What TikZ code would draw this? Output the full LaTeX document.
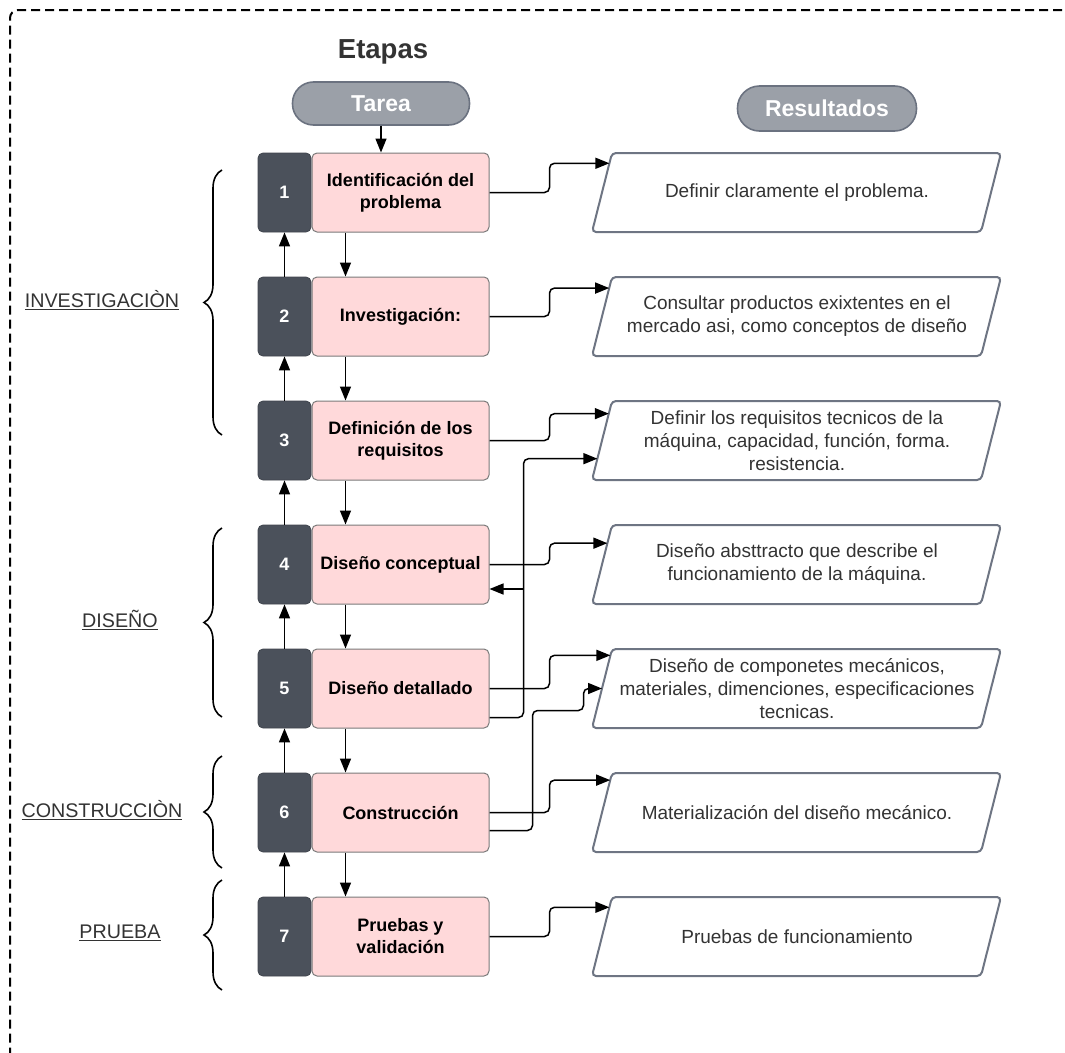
\documentclass[tikz,border=0pt]{standalone}
\usepackage{fontspec}
\setmainfont{Liberation Sans}
\usetikzlibrary{arrows.meta,decorations.pathreplacing,calc}
\definecolor{darkbox}{HTML}{4B515B}
\definecolor{pinkfill}{HTML}{FFD9DA}
\definecolor{pinkline}{HTML}{7A7A7A}
\definecolor{pillfill}{HTML}{9BA0A8}
\definecolor{pillline}{HTML}{6B7280}
\definecolor{resline}{HTML}{6E7583}
\definecolor{txt}{HTML}{333333}
\tikzset{
  numbox/.style={rectangle, rounded corners=5pt, fill=darkbox, draw=darkbox!85!black, line width=0.8pt,
    minimum width=53pt, minimum height=79pt, inner sep=0pt, text=white,
    font=\fontsize{18}{20}\selectfont\bfseries},
  taskbox/.style={rectangle, rounded corners=5pt, fill=pinkfill, draw=pinkline, line width=1pt,
    minimum width=177pt, minimum height=79pt, align=center, inner sep=0pt,
    font=\fontsize{18}{22}\selectfont\bfseries},
  pill/.style={rectangle, fill=pillfill, draw=pillline, line width=1.6pt, inner sep=0pt,
    text=white, font=\fontsize{23}{26}\selectfont\bfseries},
  restext/.style={align=center, font=\fontsize{19}{23}\selectfont, text=txt, inner sep=0pt},
  resbox/.style={draw=resline, line width=2pt, rounded corners=4pt, fill=white},
  conn/.style={draw=black, line width=1.5pt, rounded corners=5pt},
  arr/.style={conn, -{Triangle[length=14pt,width=11pt]}},
  grouplab/.style={font=\fontsize{19.7}{22}\selectfont, text=txt, inner sep=0pt},
  bracestyle/.style={decorate, decoration={brace, amplitude=18pt}, line width=1.6pt},
}
\begin{document}
\begin{tikzpicture}[x=1pt,y=-1pt]
\useasboundingbox (0,0) rectangle (1065,1052);
% dashed frame
\draw[line width=2pt, dash pattern=on 9pt off 5pt, rounded corners=8pt] (1090,10) -- (10,10) -- (10,1090);

% titles
\node[font=\fontsize{27.5}{30}\selectfont\bfseries, text=txt] (etapas) at (383,52) {Etapas};
\node[pill, rounded corners=21pt, minimum width=177pt, minimum height=43pt] (tarea) at (381,103.5) {Tarea};
\node[pill, rounded corners=22pt, minimum width=179pt, minimum height=45pt] (resultados) at (827,108.5) {Resultados};

% number boxes and task boxes
\foreach \i/\t in {1/{Identificación del\\problema}, 2/{Investigación:}, 3/{Definición de los\\requisitos},
   4/{Diseño conceptual}, 5/{Diseño detallado}, 6/{Construcción}, 7/{Pruebas y\\validación}} {
  \node[taskbox] (p\i) at (400.5,{192.5+124*(\i-1)}) {\t};
  \node[numbox] (n\i) at (284.5,{192.5+124*(\i-1)}) {\i};
}

% result parallelograms
\foreach \i/\t in {1/{Definir claramente el problema.},
   2/{Consultar productos exixtentes en el\\mercado asi, como conceptos de diseño},
   3/{Definir los requisitos tecnicos de la\\máquina, capacidad, función, forma.\\resistencia.},
   4/{Diseño absttracto que describe el\\funcionamiento de la máquina.},
   5/{Diseño de componetes mecánicos,\\materiales, dimenciones, especificaciones\\tecnicas.},
   6/{Materialización del diseño mecánico.},
   7/{Pruebas de funcionamiento}} {
  \coordinate (tl\i) at (612,{153+124*(\i-1)});
  \coordinate (tr\i) at (1001,{153+124*(\i-1)});
  \coordinate (br\i) at (981,{232+124*(\i-1)});
  \coordinate (bl\i) at (592,{232+124*(\i-1)});
  \draw[resbox] (tl\i) -- (tr\i) -- (br\i) -- (bl\i) -- cycle;
  \node[restext] (r\i) at (797,{192.5+124*(\i-1)}) {\t};
}

% arrow targets on left edges of the result boxes
\coordinate (a1) at ($(tl1)!0.13!(bl1)$);
\coordinate (a2) at ($(tl2)!0.14!(bl2)$);
\coordinate (a3) at ($(tl3)!0.16!(bl3)$);
\coordinate (a3b) at ($(tl3)!0.73!(bl3)$);
\coordinate (a4) at ($(tl4)!0.23!(bl4)$);
\coordinate (a5) at ($(tl5)!0.08!(bl5)$);
\coordinate (a5b) at ($(tl5)!0.50!(bl5)$);
\coordinate (a6) at ($(tl6)!0.09!(bl6)$);
\coordinate (a7) at ($(tl7)!0.13!(bl7)$);

% braces and group labels
\draw[bracestyle] (222,435) -- (222,170);
\draw[bracestyle] (222,717) -- (222,528);
\draw[bracestyle] (222,868) -- (222,756);
\draw[bracestyle] (222,990) -- (222,880);
\node[grouplab] (g1) at (102,300) {\underline{INVESTIGACIÒN}};
\node[grouplab] (g2) at (120,620) {\underline{DISEÑO}};
\node[grouplab] (g3) at (102,810) {\underline{CONSTRUCCIÒN}};
\node[grouplab] (g4) at (120,933) {\underline{PRUEBA}};

% connectors
\draw[arr] (tarea.south) -- (tarea.south |- p1.north);
\foreach \i/\j in {1/2,2/3,3/4,4/5,5/6,6/7} {
  \draw[arr] ($(p\i.south)+(-55,0)$) -- ($(p\j.north)+(-55,0)$);
  \draw[arr] (n\j.north) -- (n\i.south);
}
\foreach \i in {1,...,7} {
  \draw[arr] (p\i.east) -- ++(60,0) |- (a\i);
}
% feedback from detailed design
\draw[arr] ($(p5.east)+(0,29)$) -- ++(34,0) |- (a3b);
\coordinate (j4) at (523,589);
\draw[arr] (j4) -- (j4 -| p4.east);
% second output of construction
\draw[arr] ($(p6.east)+(0,18)$) -- ++(43,0) -- ++(0,-120) -- ++(51,0) |- (a5b);
\end{tikzpicture}
\end{document}
